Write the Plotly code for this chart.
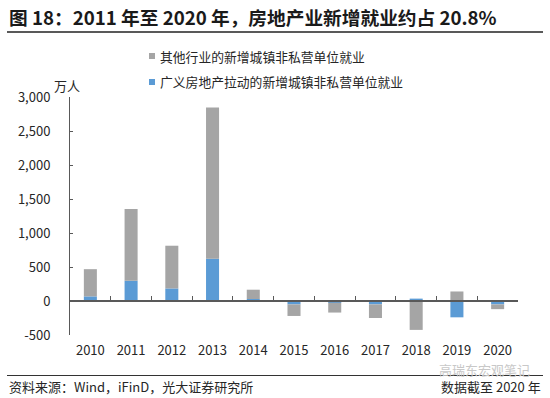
import plotly.graph_objects as go

years = ["2010", "2011", "2012", "2013", "2014", "2015", "2016", "2017", "2018", "2019", "2020"]
real_estate = [68, 298, 185, 622, 29, -50, -25, -50, 35, -240, -50]
other = [400, 1055, 628, 2224, 137, -170, -145, -200, -425, 140, -70]

name_other = "其他行业的新增城镇非私营单位就业"
name_re = "广义房地产拉动的新增城镇非私营单位就业"
title_text = "图 18：2011 年至 2020 年，房地产业新增就业约占 20.8%"
unit_text = "万人"
source_text = "资料来源：Wind，iFinD，光大证券研究所"
note_text = "数据截至 2020 年"
watermark_text = "高瑞东宏观笔记"

y_ticks = [-500, 0, 500, 1000, 1500, 2000, 2500, 3000]
y_min, y_max = -500, 3000

GRAY = "#A5A5A5"
BLUE = "#5B9BD5"
AXIS = "#595959"
TXT = "#262626"
FONT = "Noto Sans CJK SC"

W, H = 550, 398
L, R, T, B = 70, 32, 97, 63
PW, PH = W - L - R, H - T - B


def px(x):
    return (x - L) / PW


def py(y):
    return (H - B - y) / PH


fig = go.Figure()
fig.add_trace(go.Bar(x=years, y=real_estate, name=name_re, marker=dict(color=BLUE, line=dict(width=0)),
                     width=0.32, showlegend=False))
fig.add_trace(go.Bar(x=years, y=other, name=name_other, marker=dict(color=GRAY, line=dict(width=0)),
                     width=0.32, showlegend=False))
# helper trace to activate the zero-line axis
fig.add_trace(go.Scatter(x=[None], y=[None], xaxis="x2", showlegend=False, hoverinfo="skip"))

n = len(years)
zero_pos = (0 - y_min) / (y_max - y_min)

fig.update_layout(
    width=W, height=H,
    margin=dict(l=L, r=R, t=T, b=B),
    paper_bgcolor="white", plot_bgcolor="white",
    barmode="relative",
    font=dict(family=FONT, size=13, color=TXT),
    showlegend=False,
    xaxis=dict(type="category", range=[-0.5, n - 0.5], showline=False, ticks="", showgrid=False,
               zeroline=False, tickfont=dict(size=13, color=TXT), ticklabelstandoff=6),
    xaxis2=dict(overlaying="x", anchor="free", position=zero_pos, range=[-0.5, n - 0.5],
                tickmode="array", tickvals=[i + 0.5 for i in range(n)], ticks="inside", ticklen=4,
                tickcolor=AXIS, tickwidth=1, showticklabels=False, showline=True, linecolor=AXIS,
                linewidth=1.5, showgrid=False, zeroline=False),
    yaxis=dict(range=[y_min, y_max], tickmode="array", tickvals=y_ticks,
               ticktext=[f"{v:,}" for v in y_ticks], ticks="inside", ticklen=3, tickcolor=AXIS,
               showline=True, linecolor=AXIS, linewidth=1, showgrid=False, zeroline=False,
               tickfont=dict(size=13, color=TXT), ticklabelstandoff=16),
)

shapes = [
    dict(type="line", xref="paper", yref="paper", x0=px(7), x1=px(543), y0=py(32), y1=py(32),
         line=dict(color=AXIS, width=2)),
    dict(type="line", xref="paper", yref="paper", x0=px(7), x1=px(543), y0=py(375.5), y1=py(375.5),
         line=dict(color="#333333", width=1)),
    dict(type="rect", xref="paper", yref="paper", x0=px(149), x1=px(155), y0=py(59), y1=py(53),
         fillcolor=GRAY, line=dict(width=0)),
    dict(type="rect", xref="paper", yref="paper", x0=px(149), x1=px(155), y0=py(85), y1=py(79),
         fillcolor=BLUE, line=dict(width=0)),
]

annotations = [
    dict(text=f"<b>{title_text}</b>", x=px(7), y=py(16), xref="paper", yref="paper",
         xanchor="left", yanchor="middle", showarrow=False, font=dict(size=18.7, color="#1a1a1a")),
    dict(text=name_other, x=px(158), y=py(56.5), xref="paper", yref="paper",
         xanchor="left", yanchor="middle", showarrow=False, font=dict(size=12.8, color=TXT)),
    dict(text=name_re, x=px(158), y=py(81), xref="paper", yref="paper",
         xanchor="left", yanchor="middle", showarrow=False, font=dict(size=12.8, color=TXT)),
    dict(text=unit_text, x=px(67), y=py(85.5), xref="paper", yref="paper",
         xanchor="center", yanchor="middle", showarrow=False, font=dict(size=13, color=TXT)),
    dict(text=source_text, x=px(7), y=py(386.5), xref="paper", yref="paper",
         xanchor="left", yanchor="middle", showarrow=False, font=dict(size=13, color=TXT)),
    dict(text=note_text, x=px(543), y=py(386.5), xref="paper", yref="paper",
         xanchor="right", yanchor="middle", showarrow=False, font=dict(size=13, color=TXT)),
    dict(text=watermark_text, x=px(484), y=py(369.5), xref="paper", yref="paper",
         xanchor="center", yanchor="middle", showarrow=False, font=dict(size=13, color="#c8c8c8")),
]

fig.update_layout(shapes=shapes, annotations=annotations)

fig.write_html("out.html", config={"displayModeBar": False},
               post_script="document.body.style.margin='0';document.body.style.padding='0';")
